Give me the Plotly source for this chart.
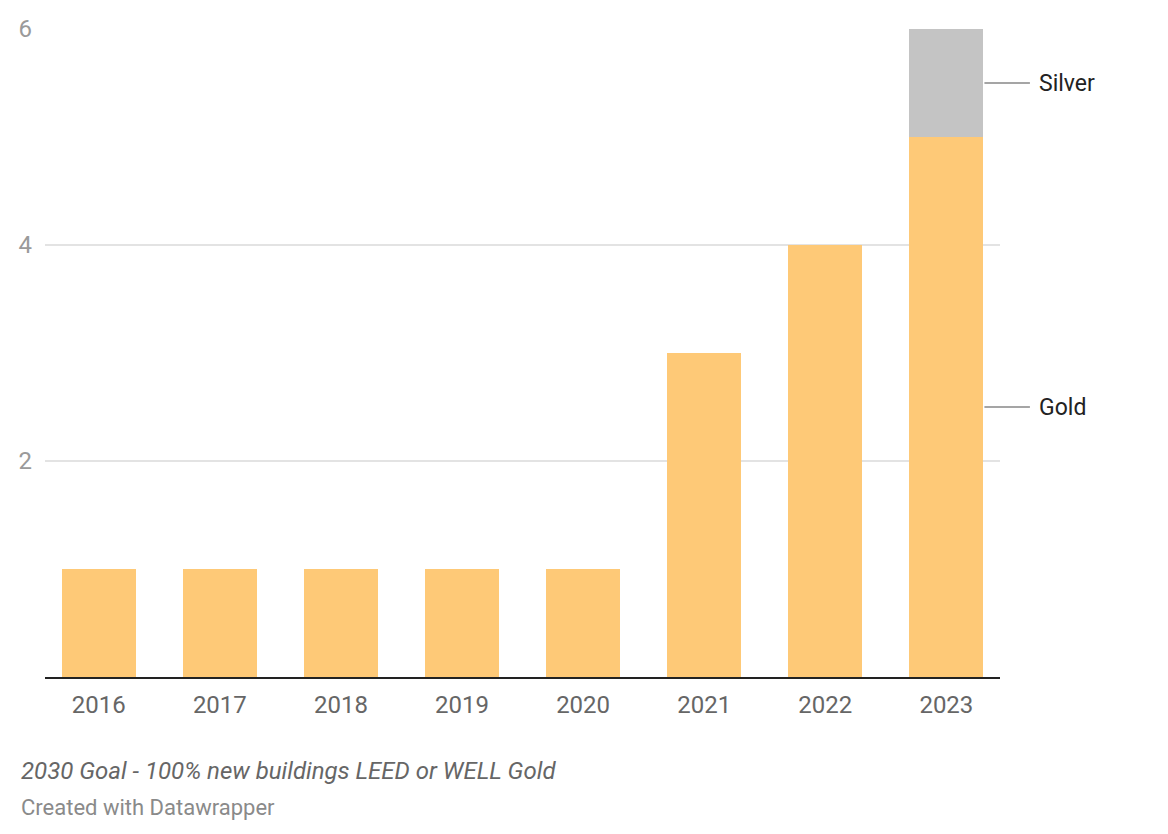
import plotly.graph_objects as go

years = ["2016", "2017", "2018", "2019", "2020", "2021", "2022", "2023"]
gold = [1, 1, 1, 1, 1, 3, 4, 5]
silver = [0, 0, 0, 0, 0, 0, 0, 1]
y_ticks = [2, 4, 6]

GOLD_C = "#fec977"
SILVER_C = "#c4c4c4"
BAR_W = 0.612

fig = go.Figure()
fig.add_trace(go.Bar(x=years, y=gold, name="Gold", marker=dict(color=GOLD_C, line=dict(width=0)),
                     width=BAR_W, hoverinfo="x+y"))
fig.add_trace(go.Bar(x=years, y=silver, name="Silver", marker=dict(color=SILVER_C, line=dict(width=0)),
                     width=BAR_W, hoverinfo="x+y"))

last = len(years) - 1
edge = last + BAR_W / 2
labels = [("Gold", gold[-1] / 2), ("Silver", gold[-1] + silver[-1] / 2)]
for name, yv in labels:
    fig.add_annotation(xref="x", yref="y", x=edge, y=yv, text="", showarrow=True,
                       arrowhead=0, arrowwidth=1.5, arrowcolor="#888888", ax=48, ay=0, standoff=1)
    fig.add_annotation(xref="x", yref="y", x=edge, y=yv, text=name, showarrow=False,
                       xanchor="left", xshift=54, font=dict(family="Roboto", size=23, color="#222222"))

fig.add_annotation(xref="paper", yref="paper", x=0, y=0, xanchor="left", yanchor="middle",
                   xshift=-26, yshift=-94,
                   text="<i>2030 Goal - 100% new buildings LEED or WELL Gold</i>", showarrow=False,
                   font=dict(family="Roboto", size=24, color="#666666"))
fig.add_annotation(xref="paper", yref="paper", x=0, y=0, xanchor="left", yanchor="middle",
                   xshift=-26, yshift=-130,
                   text="Created with Datawrapper", showarrow=False,
                   font=dict(family="Roboto", size=22, color="#8a8a8a"))

fig.update_layout(
    barmode="stack",
    width=1168, height=834,
    margin=dict(l=37, r=176, t=21, b=165, autoexpand=False),
    paper_bgcolor="white", plot_bgcolor="white",
    showlegend=False,
    font=dict(family="Roboto"),
    xaxis=dict(type="category", range=[-0.444, 7.443], showgrid=False, showline=True,
               linecolor="#222222", linewidth=2, ticks="", tickfont=dict(size=24, color="#666666"),
               ticklabelstandoff=5, zeroline=False, automargin=False),
    yaxis=dict(range=[0, 6], tickvals=y_ticks, showgrid=True, gridcolor="#e3e3e3", gridwidth=1.5,
               zeroline=False, showline=False, ticks="", tickfont=dict(size=24, color="#9a9a9a"),
               ticklabelstandoff=12, automargin=False),
)

fig.write_html("out.html")
